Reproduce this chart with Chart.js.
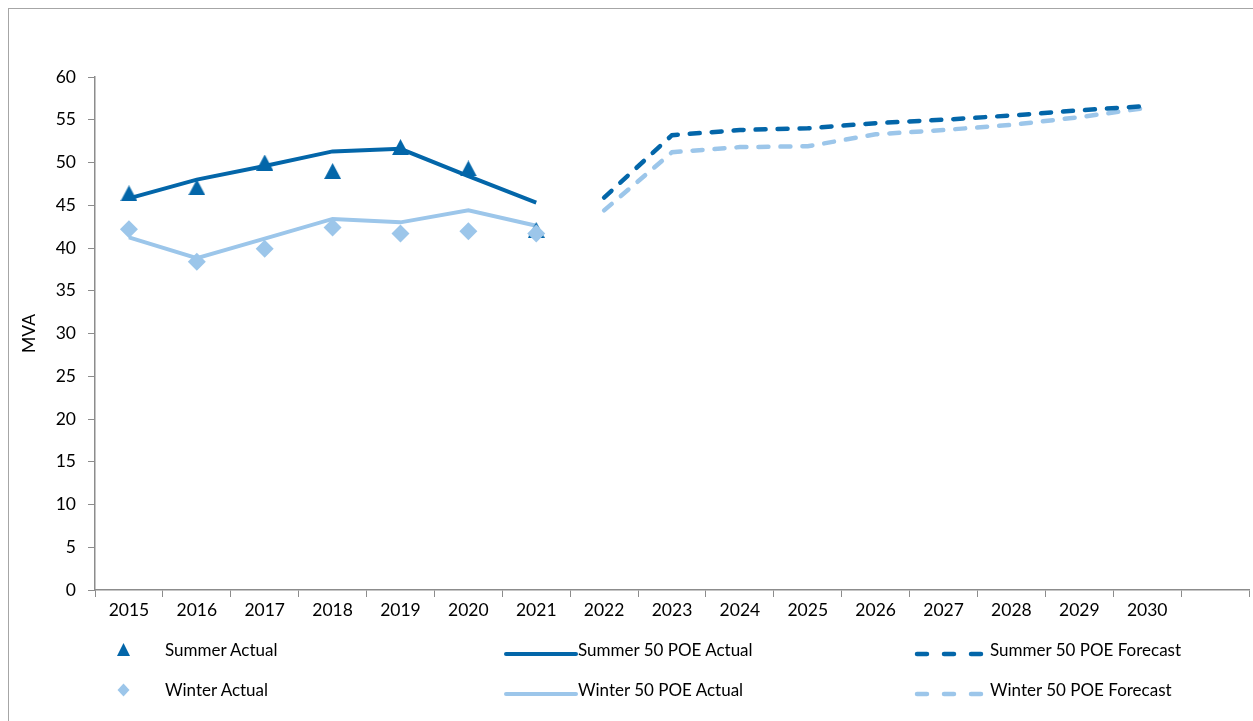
<!DOCTYPE html>
<html>
<head>
<meta charset="utf-8">
<script src="https://cdn.jsdelivr.net/npm/chart.js@4"></script>
<style>
  html, body { margin:0; padding:0; background:#fff; width:1253px; height:721px; overflow:hidden; }
  #frame { position:absolute; left:8px; top:8px; width:1300px; height:800px; border:1px solid #a6a6a6; box-sizing:border-box; }
  #wrap { position:absolute; left:0; top:0; width:1253px; height:721px; overflow:hidden; }
  .lg { position:absolute; font-family: Lato, "Noto Sans", sans-serif; font-size:17px; color:#000; line-height:20px; white-space:nowrap; }
  .mk { position:absolute; }
</style>
</head>
<body>
<div id="frame"></div>
<div id="wrap"><canvas id="c" width="1258" height="721"></canvas></div>
<div id="legend"></div>
<script>
const years = ['2015','2016','2017','2018','2019','2020','2021','2022','2023','2024','2025','2026','2027','2028','2029','2030',''];
const yTicks = [0,5,10,15,20,25,30,35,40,45,50,55,60];

const summerActual     = [46.4, 47.1, 50.0, 49.0, 51.8, 49.3, 42.1];
const winterActual     = [42.2, 38.4, 39.9, 42.4, 41.7, 41.95, 41.7];
const summerPoeActual  = [45.8, 48.0, 49.6, 51.3, 51.6, 48.4, 45.3];
const winterPoeActual  = [41.25, 38.8, 41.1, 43.4, 43.0, 44.4, 42.6];
const summerPoeForecast = [45.9, 53.2, 53.8, 54.0, 54.6, 55.0, 55.5, 56.1, 56.6];
const winterPoeForecast = [44.4, 51.2, 51.8, 51.9, 53.3, 53.8, 54.4, 55.3, 56.4];

const seriesNames = ['Summer Actual','Winter Actual','Summer 50 POE Actual','Winter 50 POE Actual','Summer 50 POE Forecast','Winter 50 POE Forecast'];

const DARK = '#0366a9';
const LIGHT = '#9cc6ea';
const FONT = 'Lato, "Noto Sans", sans-serif';

const lead = n => Array(n).fill(null);
const forecastStart = years.indexOf('2022');

// Triangle marker centred on its bounding box (Excel-style)
function triangleMarker(w, h, color) {
  const c = document.createElement('canvas');
  c.width = w; c.height = h;
  const g = c.getContext('2d');
  g.fillStyle = color;
  g.beginPath();
  g.moveTo(w / 2, 0);
  g.lineTo(w, h);
  g.lineTo(0, h);
  g.closePath();
  g.fill();
  return c;
}
const triMarker = triangleMarker(17, 16, DARK);

const datasets = [
  { label: seriesNames[1], data: winterActual, showLine:false, pointStyle:'rectRot', pointRadius:9, pointHoverRadius:9,
    backgroundColor: LIGHT, borderColor: LIGHT, borderWidth:0 },
  { label: seriesNames[0], data: summerActual, showLine:false, pointStyle: triMarker, pointRadius:9, pointHoverRadius:9,
    backgroundColor: DARK, borderColor: DARK, borderWidth:0 },
  { label: seriesNames[2], data: summerPoeActual, borderColor: DARK, borderWidth:4, pointRadius:0, tension:0, fill:false },
  { label: seriesNames[3], data: winterPoeActual, borderColor: LIGHT, borderWidth:4, pointRadius:0, tension:0, fill:false },
  { label: seriesNames[4], data: lead(forecastStart).concat(summerPoeForecast), borderColor: DARK, borderWidth:4.5,
    borderDash:[10,12], borderCapStyle:'round', pointRadius:0, tension:0, fill:false },
  { label: seriesNames[5], data: lead(forecastStart).concat(winterPoeForecast), borderColor: LIGHT, borderWidth:4.5,
    borderDash:[10,12], borderCapStyle:'round', pointRadius:0, tension:0, fill:false }
];

new Chart(document.getElementById('c'), {
  type: 'line',
  data: { labels: years, datasets },
  options: {
    responsive: false,
    animation: false,
    devicePixelRatio: 1,
    layout: { padding: { top: 77, right: 0, bottom: 91, left: 0 } },
    plugins: { legend: { display:false }, tooltip: { enabled:false } },
    scales: {
      x: {
        offset: true,
        grid: { display:true, offset:true, drawOnChartArea:false, drawTicks:true, tickLength:7, color:'#8c8c8c', lineWidth:1 },
        border: { display:true, color:'#8c8c8c', width:1.5 },
        ticks: { color:'#000', font:{ family:FONT, size:17.5 }, padding:3, maxRotation:0, autoSkip:false },
        afterFit: s => { s.height = 40; }
      },
      y: {
        min: 0, max: 60,
        afterBuildTicks: s => { s.ticks = yTicks.map(v => ({ value: v })); },
        grid: { display:true, drawOnChartArea:false, drawTicks:true, tickLength:7, color:'#8c8c8c', lineWidth:1 },
        border: { display:true, color:'#8c8c8c', width:1.5 },
        ticks: { color:'#000', font:{ family:FONT, size:17.5 }, padding:12 },
        title: { display:true, text:'MVA', color:'#000', font:{ family:FONT, size:17.5 }, padding:{ top:19, bottom:0 } },
        afterFit: s => { s.width = 95; }
      }
    }
  }
});

// Legend (HTML), three columns x two rows
const legend = document.getElementById('legend');
const rows = [650, 690];
function addText(text, x, y) {
  const d = document.createElement('div');
  d.className = 'lg'; d.textContent = text;
  d.style.left = x + 'px'; d.style.top = (y - 10) + 'px';
  legend.appendChild(d);
}
function addSvg(x, y, w, h, inner) {
  const d = document.createElement('div');
  d.className = 'mk';
  d.style.left = x + 'px'; d.style.top = y + 'px';
  d.innerHTML = `<svg width="${w}" height="${h}" xmlns="http://www.w3.org/2000/svg">${inner}</svg>`;
  legend.appendChild(d);
}
// Column 1: markers
addSvg(116, 642, 15, 15, `<polygon points="7.5,1 14,14 1,14" fill="${DARK}"/>`);
addText(seriesNames[0], 165, rows[0]);
addSvg(117, 683, 13, 14, `<polygon points="6.5,0.5 12.5,7 6.5,13.5 0.5,7" fill="${LIGHT}"/>`);
addText(seriesNames[1], 165, rows[1]);
// Column 2: solid lines
addSvg(503, 645, 76, 10, `<line x1="3" y1="5" x2="73" y2="5" stroke="${DARK}" stroke-width="4" stroke-linecap="round"/>`);
addText(seriesNames[2], 578, rows[0]);
addSvg(503, 685, 76, 10, `<line x1="3" y1="5" x2="73" y2="5" stroke="${LIGHT}" stroke-width="4" stroke-linecap="round"/>`);
addText(seriesNames[3], 578, rows[1]);
// Column 3: dashed lines
addSvg(912, 645, 78, 10, `<line x1="5" y1="5" x2="73" y2="5" stroke="${DARK}" stroke-width="4.5" stroke-linecap="round" stroke-dasharray="10 17"/>`);
addText(seriesNames[4], 990, rows[0]);
addSvg(912, 685, 78, 10, `<line x1="5" y1="5" x2="73" y2="5" stroke="${LIGHT}" stroke-width="4.5" stroke-linecap="round" stroke-dasharray="10 17"/>`);
addText(seriesNames[5], 990, rows[1]);
</script>
</body>
</html>
